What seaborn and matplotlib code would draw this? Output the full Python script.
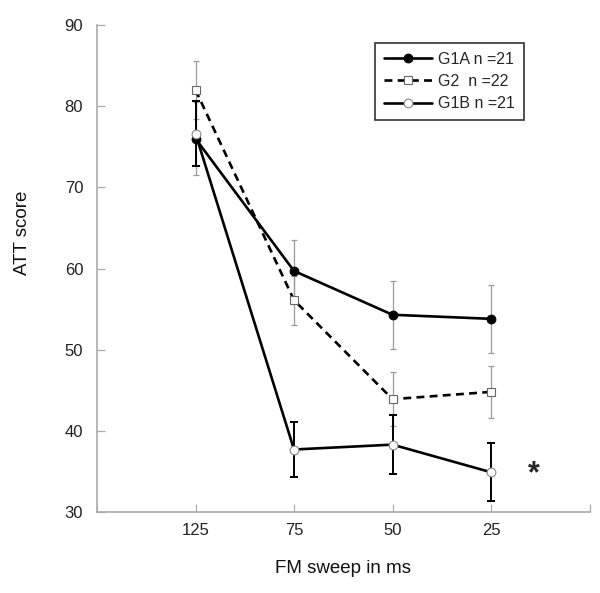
import numpy as np
import pandas as pd
import seaborn as sns
import matplotlib.pyplot as plt

sweeps = ["125", "75", "50", "25"]
g1a_mean = [76.0, 59.7, 54.3, 53.8]
g1a_err = [4.5, 3.8, 4.2, 4.2]
g2_mean = [82.0, 56.1, 43.9, 44.8]
g2_err = [3.6, 3.0, 3.3, 3.2]
g1b_mean = [76.6, 37.7, 38.3, 34.9]
g1b_err = [4.0, 3.4, 3.6, 3.6]

sns.set_style("ticks")
plt.rcParams['font.family'] = ['Liberation Sans', 'DejaVu Sans']

fig = plt.figure(figsize=(6, 5.93), dpi=100)
ax = fig.add_axes([0.1617, 0.1366, 0.8208, 0.8212])

pos = np.arange(1, len(sweeps) + 1)
grey = "#9a9a9a"

# error bars first, so the lines sit on top
ax.errorbar(pos, g1a_mean, yerr=g1a_err, fmt="none", ecolor=grey,
            elinewidth=0.9, capsize=2.5, capthick=0.9, zorder=1)
ax.errorbar(pos, g2_mean, yerr=g2_err, fmt="none", ecolor=grey,
            elinewidth=0.9, capsize=2.5, capthick=0.9, zorder=1)
ax.errorbar(pos, g1b_mean, yerr=g1b_err, fmt="none", ecolor="black",
            elinewidth=1.4, capsize=3, capthick=1.4, zorder=2)

sns.lineplot(x=pos, y=g1a_mean, ax=ax, color="black", lw=1.9, marker="o",
             markersize=6.3, markerfacecolor="black", markeredgecolor="black",
             label="G1A n =21", zorder=3)
sns.lineplot(x=pos, y=g2_mean, ax=ax, color="black", lw=1.9, linestyle=(0, (3, 2)),
             marker="s", markersize=5.3, markerfacecolor="white",
             markeredgecolor="#666666", markeredgewidth=0.8,
             label="G2  n =22", zorder=3)
sns.lineplot(x=pos, y=g1b_mean, ax=ax, color="black", lw=1.9, marker="o",
             markersize=6.3, markerfacecolor="white", markeredgecolor="#888888",
             markeredgewidth=0.8, label="G1B n =21", zorder=4)

ax.text(4.43, 34.6, "*", fontsize=22, fontweight="bold", ha="center", va="center")

ax.set_xlim(0, 5)
ax.set_ylim(30, 90)
ax.set_xticks([0, 1, 2, 3, 4, 5])
ax.set_xticklabels([""] + sweeps + [""])
ax.set_yticks(range(30, 91, 10))

sns.despine(ax=ax)
for s in ["left", "bottom"]:
    ax.spines[s].set_color("#aaaaaa")
    ax.spines[s].set_linewidth(1.2)
ax.tick_params(axis="both", direction="in", length=6, width=0.9,
               color="#aaaaaa", labelsize=12, labelcolor="#222222")
ax.tick_params(axis="x", pad=8)
ax.tick_params(axis="y", pad=10)

ax.set_xlabel("FM sweep in ms", fontsize=13.5, color="#111111")
ax.set_ylabel("ATT score", fontsize=13.5, color="#111111")
ax.xaxis.set_label_coords(0.5, -0.099)
ax.yaxis.set_label_coords(-0.135, 0.573)

leg = ax.legend(loc="upper left", bbox_to_anchor=(0.565, 0.963), fontsize=11.5,
                frameon=True, fancybox=False, handlelength=3.0, borderaxespad=0,
                borderpad=0.55, labelspacing=0.45, handletextpad=0.4)
leg.get_frame().set_edgecolor("black")
leg.get_frame().set_linewidth(1.2)

fig.savefig("out.png", dpi=100)
